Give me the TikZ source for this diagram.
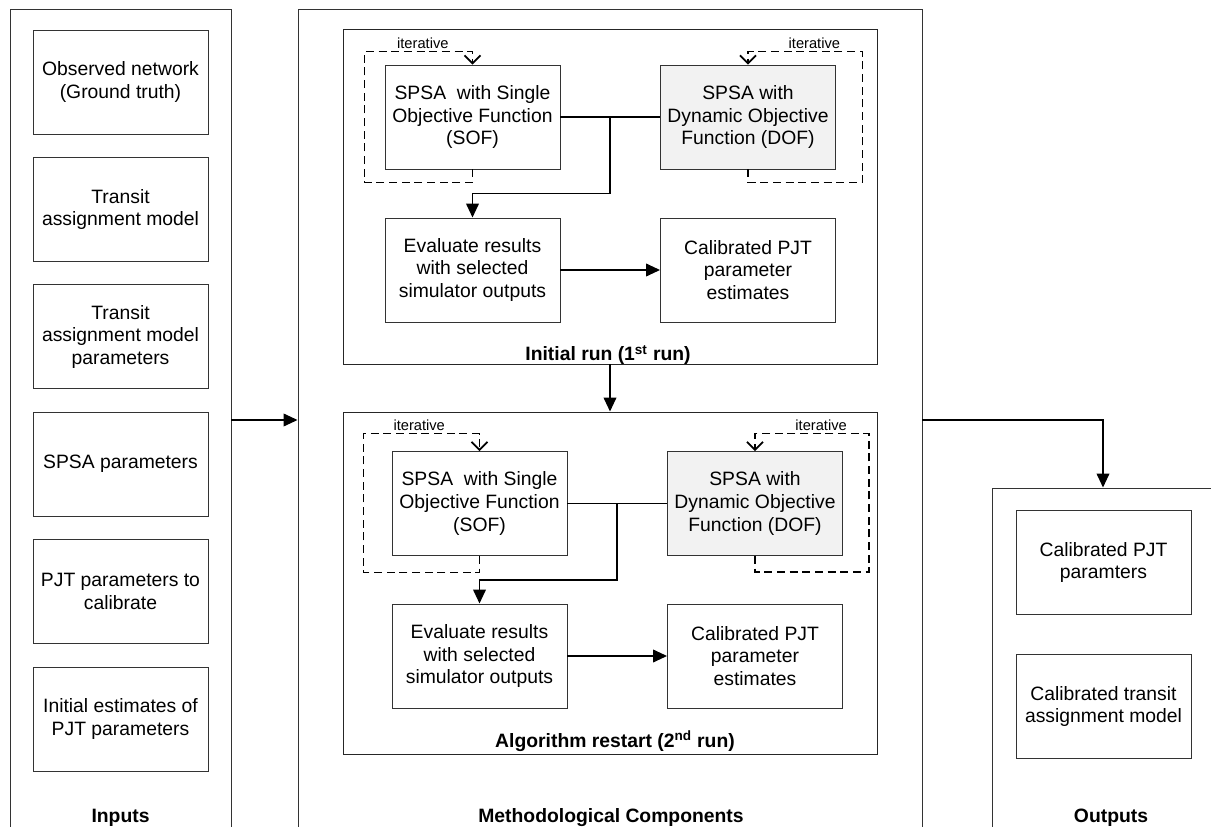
\documentclass[tikz,border=0pt]{standalone}
\usepackage{fontspec}
\setmainfont{Liberation Sans}
\usepackage{xcolor}
\usetikzlibrary{arrows.meta, positioning, calc, fit}

\begin{document}
\begin{tikzpicture}[x=0.75pt, y=-0.75pt,
    every node/.style={font=\fontsize{14.5}{17}\selectfont},
    box/.style={draw=black!80, line width=0.7pt, minimum width=131.25pt, minimum height=78pt, align=center, inner sep=2pt},
    dofbox/.style={box, fill=black!5},
    panel/.style={draw=black!80, line width=0.7pt, inner sep=0pt},
    runbox/.style={draw=black!85, line width=0.7pt, inner sep=0pt},
    heading/.style={font=\bfseries\fontsize{14.5}{17}\selectfont, anchor=base},
    link/.style={line width=1.3pt},
    arr/.style={line width=1.3pt, -{Triangle[length=10.5pt, width=9.5pt]}},
    iter/.style={line width=1.3pt, dash pattern=on 6pt off 3.5pt, -{Straight Barb[length=6pt, width=12pt]}},
    itertext/.style={font=\fontsize{11}{13}\selectfont, above, inner sep=1.5pt}]
    \useasboundingbox (0,0) rectangle (1211,827);
    \clip (0,0) rectangle (1211,827);

    % three panels, open at the bottom
    \node[panel, fit={(10,9.5) (231,860)}] (inputs) {};
    \node[panel, fit={(298,9.5) (922,860)}] (method) {};
    \node[panel, fit={(992,488) (1214,860)}] (outputs) {};
    \node[heading] (inlabel) at (120.5,822) {Inputs};
    \node[heading] (methlabel) at (611,822) {Methodological Components};
    \node[heading] (outlabel) at (1111,822) {Outputs};

    % inputs
    \foreach \txt [count=\i from 0] in {{Observed network\\(Ground truth)}, {Transit\\assignment model},
        {Transit\\assignment model\\parameters}, {SPSA parameters}, {PJT parameters to\\calibrate},
        {Initial estimates of\\PJT parameters}}
        \node[box] (in\i) at (120.5, 82+127.4*\i) {\txt};

    % outputs
    \node[box] (out1) at (1103.5,562.5) {Calibrated PJT\\paramters};
    \node[box] (out2) at (1103.5,706.5) {Calibrated transit\\assignment model};

    % initial run
    \node[runbox, fit={(343,29) (877,364)}] (run1) {};
    \node[heading] (run1label) at (608,361) {Initial run (1\textsuperscript{st} run)};
    \node[box] (sof1) at (472.5,117) {SPSA\ \ with Single\\Objective Function\\(SOF)};
    \node[dofbox] (dof1) at (748,117) {SPSA with\\Dynamic Objective\\Function (DOF)};
    \node[box] (eval1) at (472.5,270) {Evaluate results\\with selected\\simulator outputs};
    \node[box] (cal1) at (748,270) {Calibrated PJT\\parameter\\estimates};

    % algorithm restart
    \node[runbox, fit={(343,412) (877,754)}] (run2) {};
    \node[heading] (run2label) at (615,747) {Algorithm restart (2\textsuperscript{nd} run)};
    \node[box] (sof2) at (479.5,503.5) {SPSA\ \ with Single\\Objective Function\\(SOF)};
    \node[dofbox] (dof2) at (755,503.5) {SPSA with\\Dynamic Objective\\Function (DOF)};
    \node[box] (eval2) at (479.5,656) {Evaluate results\\with selected\\simulator outputs};
    \node[box] (cal2) at (755,656) {Calibrated PJT\\parameter\\estimates};

    % connectors
    \coordinate (feed) at (0,420);
    \draw[arr] (inputs.east |- feed) -- (method.west |- feed);
    \draw[arr] (method.east |- feed) -| (outputs.north);
    \draw[arr] (run1.south) -- (run2.north);

    \coordinate (j1) at ($(sof1.east)!0.5!(dof1.west)$);
    \draw[link] (sof1) -- (dof1);
    \draw[arr] (j1) |- ($(sof1.south)!0.5!(eval1.north)$) -- (eval1.north);
    \draw[arr] (eval1) -- (cal1);

    \coordinate (j2) at ($(sof2.east)!0.5!(dof2.west)$);
    \draw[link] (sof2) -- (dof2);
    \draw[arr] (j2) |- ($(sof2.south)!0.5!(eval2.north)$) -- (eval2.north);
    \draw[arr] (eval2) -- (cal2);

    % iteration loops
    \draw[iter] (sof1.south) -- ++(0,13) -| ([shift={(-20,-13)}]sof1.north west) -| (sof1.north)
        node[itertext, pos=0.27] {iterative};
    \draw[iter] (dof1.south) -- ++(0,13) -| ([shift={(26.5,-13)}]dof1.north east) -| (dof1.north)
        node[itertext, pos=0.21] {iterative};
    \draw[iter] (sof2.south) -- ++(0,16.5) -| ([shift={(-28,-17.5)}]sof2.north west) -| (sof2.north)
        node[itertext, pos=0.24] {iterative};
    \draw[iter] (dof2.south) -- ++(0,16) -| ([shift={(26,-17.5)}]dof2.north east) -| (dof2.north)
        node[itertext, pos=0.21] {iterative};
\end{tikzpicture}
\end{document}
